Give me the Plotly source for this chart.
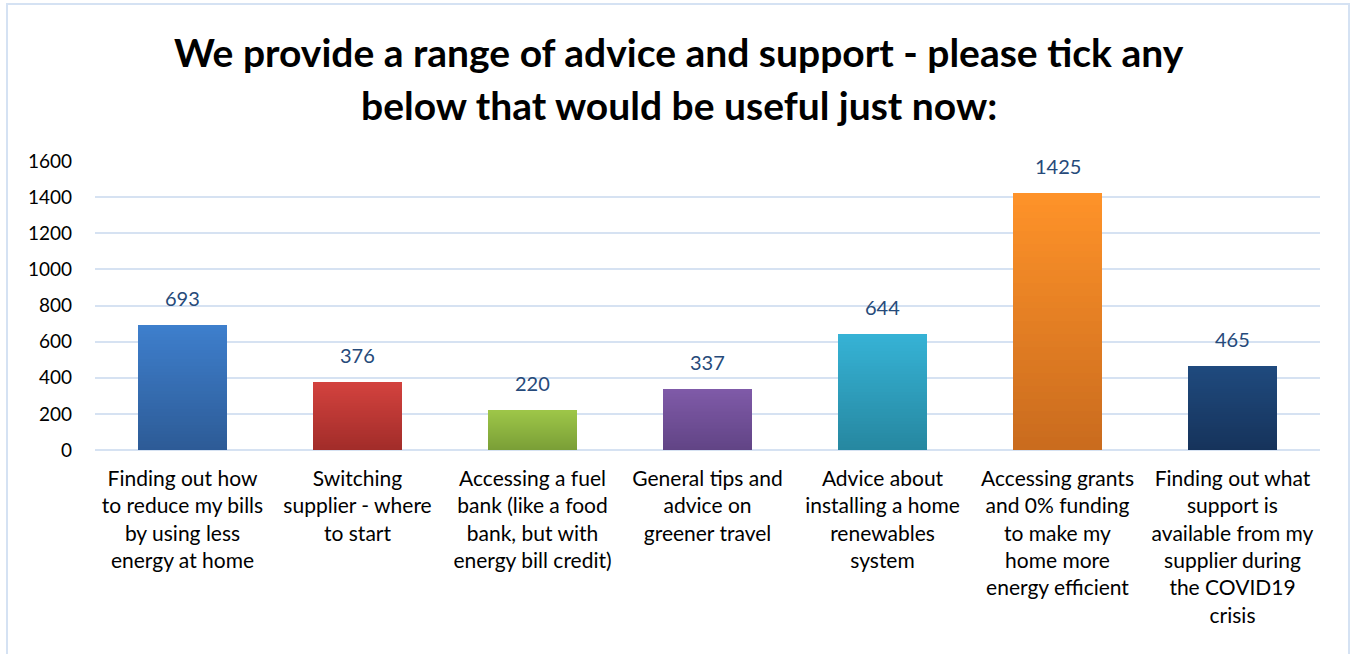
import plotly.graph_objects as go

# Survey responses: which kinds of advice/support would be useful
categories = [
    "Finding out how<br>to reduce my bills<br>by using less<br>energy at home",
    "Switching<br>supplier - where<br>to start",
    "Accessing a fuel<br>bank (like a food<br>bank, but with<br>energy bill credit)",
    "General tips and<br>advice on<br>greener travel",
    "Advice about<br>installing a home<br>renewables<br>system",
    "Accessing grants<br>and 0% funding<br>to make my<br>home more<br>energy efficient",
    "Finding out what<br>support is<br>available from my<br>supplier during<br>the COVID19<br>crisis",
]
responses = [693, 376, 220, 337, 644, 1425, 465]

# Vertical gradient for each bar: (top colour, bottom colour)
top_colors = ["#3E7FCD", "#D3423E", "#9DC548", "#7F5AA8", "#36B3D6", "#FF9329", "#1F4A7E"]
bottom_colors = ["#2D5B96", "#A12C29", "#799E36", "#614485", "#2687A0", "#C96B1E", "#16335B"]

y_ticks = [0, 200, 400, 600, 800, 1000, 1200, 1400, 1600]

FONT = "Lato"
N_STEPS = 40

# Plot-area geometry in pixels (used to place the outer frame)
PLOT_L, PLOT_R, PLOT_T, PLOT_B = 95, 1320, 161, 450


def hex_to_rgb(h):
    h = h.lstrip("#")
    return tuple(int(h[i:i + 2], 16) for i in (0, 2, 4))


def blend(c_bottom, c_top, t):
    a, b = hex_to_rgb(c_bottom), hex_to_rgb(c_top)
    r = [round(a[i] + (b[i] - a[i]) * t) for i in range(3)]
    return f"rgb({r[0]},{r[1]},{r[2]})"


def px_to_paper_x(px):
    return (px - PLOT_L) / (PLOT_R - PLOT_L)


def px_to_paper_y(py):
    return (PLOT_B - py) / (PLOT_B - PLOT_T)


fig = go.Figure()

# Each bar is built from thin stacked slices so it can carry a vertical gradient
for k in range(N_STEPS):
    t = (k + 0.5) / N_STEPS
    fig.add_trace(go.Bar(
        x=categories,
        y=[v / N_STEPS for v in responses],
        marker=dict(
            color=[blend(bottom_colors[i], top_colors[i], t) for i in range(len(responses))],
            line=dict(width=0),
        ),
        showlegend=False,
        hoverinfo="skip",
    ))

# Value labels above each bar
for cat, v in zip(categories, responses):
    fig.add_annotation(
        x=cat, y=v, text=str(v), showarrow=False,
        yanchor="bottom", yshift=13,
        font=dict(family=FONT, size=20, color="#264A7A"),
    )

# Two-line bold heading
title_lines = [
    "We provide a range of advice and support - please tick any",
    "below that would be useful just now:",
]
for line, py in zip(title_lines, [52, 105]):
    fig.add_annotation(
        xref="paper", yref="paper",
        x=px_to_paper_x(679), y=px_to_paper_y(py),
        text=f"<b>{line}</b>", showarrow=False,
        xanchor="center", yanchor="middle",
        font=dict(family=FONT, size=39, color="black"),
    )

# Light blue frame around the whole chart
fig.add_shape(
    type="rect", xref="paper", yref="paper",
    x0=px_to_paper_x(7), x1=px_to_paper_x(1349),
    y0=px_to_paper_y(664), y1=px_to_paper_y(4),
    line=dict(color="#D5E2F3", width=2), fillcolor="rgba(0,0,0,0)", layer="below",
)

fig.update_layout(
    width=1353, height=654,
    margin=dict(l=PLOT_L, r=1353 - PLOT_R, t=PLOT_T, b=654 - PLOT_B),
    paper_bgcolor="white", plot_bgcolor="white",
    barmode="stack", bargap=0.49,
    font=dict(family=FONT, color="black"),
)

fig.update_xaxes(
    showgrid=False, showline=False, ticks="",
    tickfont=dict(family=FONT, size=21, color="black"),
    tickangle=0, ticklabelstandoff=14,
)
fig.update_yaxes(
    range=[0, 1600], tickvals=y_ticks,
    showgrid=True, gridcolor="#D6E2F2", gridwidth=1.5,
    zeroline=True, zerolinecolor="#D6E2F2", zerolinewidth=1.5,
    showline=False, ticks="",
    ticklabelstandoff=22,
    tickfont=dict(family=FONT, size=19, color="black"),
)

fig.write_html("out.html")
